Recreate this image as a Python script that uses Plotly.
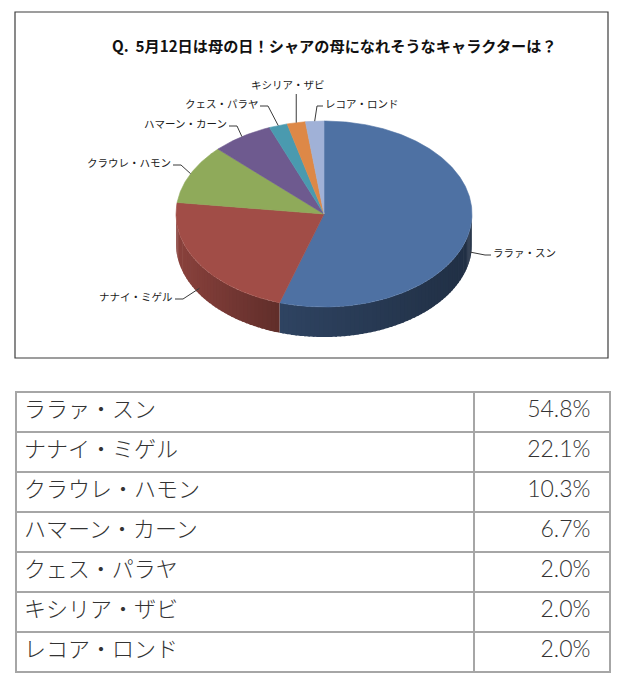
import numpy as np
import plotly.graph_objects as go

# survey result (percent)
title = "Q.  5月12日は母の日！シャアの母になれそうなキャラクターは？"
names = ["ララァ・スン", "ナナイ・ミゲル", "クラウレ・ハモン", "ハマーン・カーン",
         "クェス・パラヤ", "キシリア・ザビ", "レコア・ロンド"]
shares = [54.8, 22.1, 10.3, 6.7, 2.0, 2.0, 2.0]

colors = ["#4E71A3", "#A14D47", "#8FAA5A", "#6E5A8F", "#4A9AAF", "#DD8847", "#A0B1D7"]

# pie geometry in page pixels
cx, cy, rx, ry, depth = 324, 214, 148, 93, 30

# label text placement: (x, y, xanchor)
label_at = [(492, 252, "left"), (174, 296, "right"), (172, 162, "right"),
            (228, 123, "right"), (259, 103, "right"), (288, 84, "center"),
            (324, 103, "left")]

font = "Noto Sans CJK JP"


def hex_rgb(h):
    return np.array([int(h[i:i + 2], 16) for i in (1, 3, 5)], dtype=float)


def shade(h, f):
    c = np.clip(hex_rgb(h) * f, 0, 255).astype(int)
    return "rgb(%d,%d,%d)" % tuple(c)


def ex(t):
    return cx + rx * np.sin(t)


def ey(t):
    return cy - ry * np.cos(t)


vals = np.array(shares)
bounds = np.concatenate([[0], np.cumsum(vals)]) / vals.sum() * 2 * np.pi

fig = go.Figure()

# side wall (front half only), thin overlapping strips for the shading
for i in range(len(vals)):
    a = max(bounds[i], np.pi / 2)
    b = min(bounds[i + 1], 3 * np.pi / 2)
    if b <= a:
        continue
    steps = np.linspace(a, b, max(2, int((b - a) / 0.03) + 1))
    for s0, s1 in zip(steps[:-1], steps[1:]):
        t = np.linspace(s0, min(s1 + 0.012, b), 4)
        xs = np.concatenate([ex(t), ex(t[::-1])])
        ys = np.concatenate([ey(t), ey(t[::-1]) + depth])
        pos = (ex((s0 + s1) / 2) - (cx - rx)) / (2 * rx)
        c = shade(colors[i], np.interp(pos, [0, 0.35, 1], [0.86, 0.6, 0.42]))
        fig.add_trace(go.Scatter(x=xs, y=ys, fill="toself", fillcolor=c, mode="none",
                                 hoverinfo="skip"))

# top surface
for i in range(len(vals)):
    t = np.linspace(bounds[i], bounds[i + 1], max(3, int((bounds[i + 1] - bounds[i]) / 0.01)))
    xs = np.concatenate([[cx], ex(t), [cx]])
    ys = np.concatenate([[cy], ey(t), [cy]])
    fig.add_trace(go.Scatter(x=xs, y=ys, fill="toself", fillcolor=colors[i], mode="lines",
                             line=dict(color=colors[i], width=0.6),
                             name=names[i], hoverinfo="name"))

# labels with leader lines
for i in range(len(vals)):
    m = (bounds[i] + bounds[i + 1]) / 2
    px_, py_ = ex(m), ey(m)
    if np.cos(m) < 0:
        py_ += depth * 0.8
    tx, ty, anchor = label_at[i]
    if anchor == "right":
        lx, ly = [tx + 1, tx + 9, px_], [ty + 3, ty + 3, py_]
    elif anchor == "left":
        lx, ly = [tx - 1, tx - 7, px_], [ty + 3, ty + 3, py_]
    else:
        lx, ly = [px_, px_], [ty + 10, py_]
    fig.add_trace(go.Scatter(x=lx, y=ly, mode="lines", line=dict(color="#3A3A3A", width=1),
                             hoverinfo="skip"))
    fig.add_annotation(x=tx, y=ty, text=names[i], showarrow=False, xanchor=anchor,
                       yanchor="middle", borderpad=0,
                       font=dict(family=font, size=10.5, color="#1A1A1A"))

fig.add_annotation(x=334, y=45, text="<b>" + title + "</b>", showarrow=False,
                   xanchor="center", yanchor="middle",
                   font=dict(family=font, size=15.2, color="#111111"))

fig.add_shape(type="rect", x0=15, y0=12, x1=608, y1=358, xref="x", yref="y",
              line=dict(color="#3C3C3C", width=1.2), layer="below")

# first row goes in the header so the table is exactly 7 rows tall
cell_style = dict(format=["", ".1f"], suffix=["", "%\u2002"], align=["left", "right"],
                  height=40, fill_color="white", line=dict(color="#A6A6A6", width=1.5),
                  font=dict(family=[font, "Lato"], size=[22, 23], color="#333333",
                            weight=300))
fig.add_trace(go.Table(
    domain=dict(x=[16 / 625, 610 / 625], y=[6 / 680, 288 / 680]),
    columnwidth=[458, 136],
    header=dict(values=[[names[0]], [shares[0]]], **cell_style),
    cells=dict(values=[names[1:], shares[1:]], **cell_style),
))

fig.update_layout(
    width=625, height=680, autosize=False,
    margin=dict(l=0, r=0, t=0, b=0),
    paper_bgcolor="white", plot_bgcolor="white",
    showlegend=False,
    xaxis=dict(range=[0, 625], visible=False, fixedrange=True),
    yaxis=dict(range=[680, 0], visible=False, fixedrange=True),
)

fig.write_html("out.html", config={"displayModeBar": False},
               post_script="document.body.style.margin='0px';")
